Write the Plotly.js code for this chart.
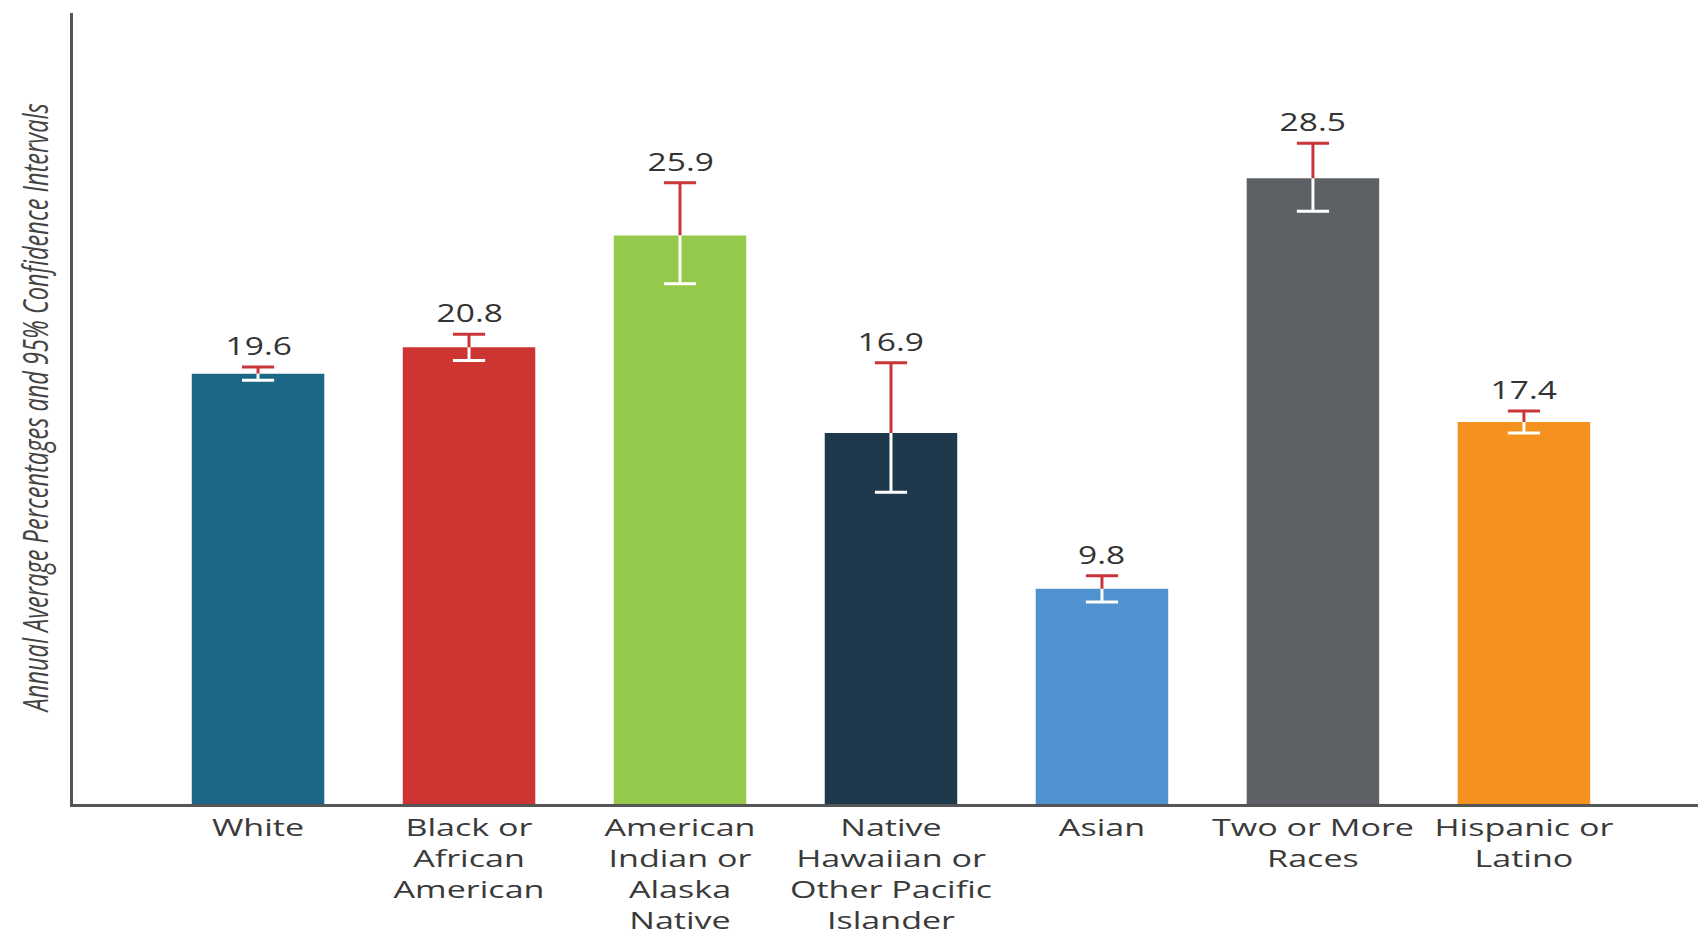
<!DOCTYPE html>
<html>
<head>
<meta charset="utf-8">
<script src="https://cdn.plot.ly/plotly-3.0.1.min.js"></script>
<style>
html,body{margin:0;padding:0;background:#fff;}
#chart{width:1698px;height:938px;}
</style>
</head>
<body>
<div id="chart"></div>
<script>
// ---- data ----
const categories = ["White", "Black or African American", "American Indian or Alaska Native",
  "Native Hawaiian or Other Pacific Islander", "Asian", "Two or More Races", "Hispanic or Latino"];
const tickLabels = ["White", "Black or<br>African<br>American", "American<br>Indian or<br>Alaska<br>Native",
  "Native<br>Hawaiian or<br>Other Pacific<br>Islander", "Asian", "Two or More<br>Races", "Hispanic or<br>Latino"];
const values = [19.6, 20.8, 25.9, 16.9, 9.8, 28.5, 17.4];
const ciUpper = [19.9, 21.4, 28.3, 20.1, 10.4, 30.1, 17.9];
const ciLower = [19.3, 20.2, 23.7, 14.2, 9.2, 27.0, 16.9];
const barColors = ["#1c6786", "#cc3531", "#95c94b", "#1e394c", "#4f92cf", "#5d6166", "#f4911f"];
const yTitle = "Annual Average Percentages and 95% Confidence Intervals";

// ---- derived ----
const upLen = values.map((v, i) => +(ciUpper[i] - v).toFixed(3));
const loLen = values.map((v, i) => +(v - ciLower[i]).toFixed(3));
const zeros = values.map(() => 0);

const bars = {
  type: "bar", x: categories, y: values, width: 0.628,
  marker: {color: barColors, line: {width: 0}},
  hoverinfo: "x+y", showlegend: false
};
// red upper part: cap at upper CI, line down to the bar top
const upperPart = {
  type: "scatter", mode: "markers", x: categories, y: ciUpper,
  marker: {symbol: "line-ew", size: 23, color: "#c8363a", line: {color: "#c8363a", width: 3}},
  error_y: {type: "data", symmetric: false, array: zeros, arrayminus: upLen, width: 0, thickness: 3, color: "#c8363a"},
  hoverinfo: "skip", showlegend: false
};
// white lower part: cap at lower CI, line up to the bar top
const lowerPart = {
  type: "scatter", mode: "markers", x: categories, y: ciLower,
  marker: {symbol: "line-ew", size: 23, color: "#ffffff", line: {color: "#ffffff", width: 3}},
  error_y: {type: "data", symmetric: false, array: loLen, arrayminus: zeros, width: 0, thickness: 3, color: "#ffffff"},
  hoverinfo: "skip", showlegend: false
};

const annotations = categories.map((c, i) => ({
  x: c, y: ciUpper[i], xref: "x", yref: "y",
  text: values[i].toFixed(1), showarrow: false,
  yanchor: "bottom", yshift: 3,
  font: {family: "Open Sans, sans-serif", size: 25, color: "#333333"}
}));
annotations.push({
  xref: "paper", yref: "paper", x: -0.024, y: 0.5,
  xanchor: "center", yanchor: "middle", textangle: -90,
  text: yTitle, showarrow: false, name: "ytitle",
  font: {family: "Open Sans, sans-serif", size: 23.6, color: "#444444", style: "italic"}
});

const layout = {
  width: 1698, height: 938,
  margin: {l: 73, r: 0, t: 13, b: 134},
  paper_bgcolor: "#ffffff", plot_bgcolor: "#ffffff",
  showlegend: false,
  xaxis: {
    type: "category", range: [-0.877, 6.825],
    tickvals: categories, ticktext: tickLabels,
    showline: true, linecolor: "#555555", linewidth: 3,
    showgrid: false, zeroline: false, ticks: "",
    tickfont: {family: "Open Sans, sans-serif", size: 24, color: "#3a3a3a"}
  },
  yaxis: {
    range: [0, 36.03], showticklabels: false, ticks: "",
    showline: true, linecolor: "#555555", linewidth: 3,
    showgrid: false, zeroline: false
  },
  annotations: annotations
};

// the reference's lettering is drawn wide (horizontally stretched); mimic it on the real SVG text
function stretch(el, sx, sy) {
  const bb = el.getBBox();
  const cx = bb.x + bb.width / 2, cy = bb.y + bb.height / 2;
  const tr = el.getAttribute("transform") || "";
  el.setAttribute("transform", (tr + ` translate(${cx},${cy}) scale(${sx},${sy}) translate(${-cx},${-cy})`).trim());
}

Plotly.newPlot("chart", [bars, upperPart, lowerPart], layout, {displayModeBar: false, responsive: false})
  .then(gd => {
    gd.querySelectorAll(".xtick text").forEach(t => stretch(t, 1.42, 1));
    const ann = gd.querySelectorAll(".annotation");
    ann.forEach((a, i) => {
      const t = a.querySelector("text.annotation-text");
      if (!t) return;
      if (i < categories.length) stretch(t, 1.34, 1);
      else stretch(t, 1, 1.45);
    });
  });
</script>
</body>
</html>
